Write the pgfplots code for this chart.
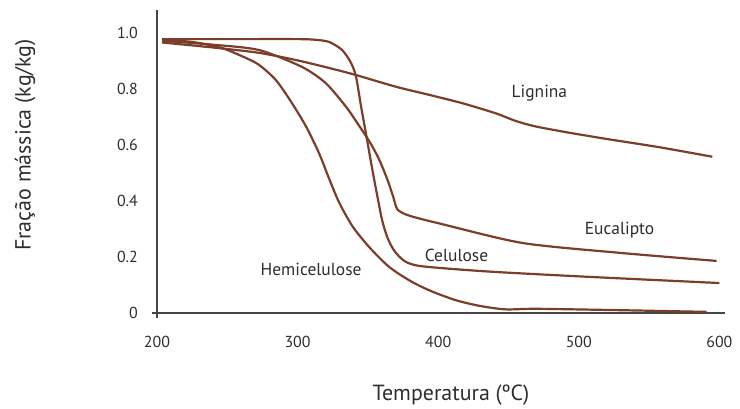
\documentclass[border=0pt]{standalone}
\usepackage{fontspec}
\setmainfont{PT Sans}
\usepackage{pgfplots}
\usepackage{pgfplotstable}
\pgfplotsset{compat=1.18}

\definecolor{curva}{RGB}{122,62,42}
\definecolor{eixo}{RGB}{70,70,70}
\definecolor{texto}{RGB}{45,45,45}

% temperatura (C), fracao massica (kg/kg)
\pgfplotstableread{
T y
203.6 0.966
240 0.948
272.6 0.929
300 0.902
322.4 0.875
341.4 0.850
369.9 0.808
393.6 0.779
417.3 0.749
441 0.713
455 0.686
469.4 0.666
493 0.644
521.7 0.620
557.3 0.592
595 0.558
}\lignina

\pgfplotstableread{
T y
203.6 0.978
250 0.978
300 0.978
312 0.976
322.4 0.968
331.7 0.939
338 0.893
341.6 0.843
345.2 0.736
348.8 0.636
352.3 0.536
355.9 0.439
360.1 0.332
364 0.268
368 0.228
372 0.203
378 0.180
390 0.166
436 0.148
507.5 0.129
600 0.107
}\celulose

\pgfplotstableread{
T y
203.6 0.972
240 0.958
272.6 0.939
303 0.879
320 0.821
334.5 0.736
344 0.667
352 0.605
358 0.548
364 0.475
368 0.415
371 0.370
378 0.350
390 0.333
400.7 0.320
460 0.250
531 0.214
598 0.186
}\eucalipto

\pgfplotstableread{
T y
203.6 0.975
225 0.968
245 0.948
260 0.918
272 0.888
284 0.835
294 0.765
305.8 0.668
315.3 0.570
322.4 0.480
329.5 0.395
339 0.310
351 0.235
365 0.165
380 0.115
395 0.078
413 0.045
430 0.025
448 0.013
470 0.015
530 0.010
591 0.004
}\hemicelulose

\begin{document}
\begin{tikzpicture}[
  curvas/.style={curva, line width=2.2bp, smooth, tension=0.45},
  rotulo/.style={texto, font=\fontsize{17.5}{20}\selectfont},
]
\begin{axis}[
  scale only axis, width=568bp, height=303bp,
  xmin=200, xmax=604, ymin=0, ymax=1.082,
  axis x line*=bottom, axis y line*=left,
  axis line style={eixo, line width=1.6bp, -},
  xtick={200,300,400,500,600},
  ytick={0,0.2,0.4,0.6,0.8,1.0},
  yticklabels={0,0.2,0.4,0.6,0.8,1.0},
  xticklabels={200,300,400,500,600},
  major tick length=0pt,
  tick label style={texto, font=\fontsize{16}{18}\selectfont},
  xticklabel style={anchor=center, yshift=-29bp},
  yticklabel style={anchor=east, inner sep=0pt, xshift=-19bp},
  extra x ticks={200}, extra x tick labels={},
  extra y ticks={0}, extra y tick labels={},
  extra tick style={major tick length=5bp, tick align=outside,
    tick style={eixo, line width=1.4bp}},
  xlabel={Temperatura (ºC)},
  ylabel={Fração mássica (kg/kg)},
  label style={texto, font=\fontsize{22}{25}\selectfont},
  xlabel style={at={(axis description cs:0.5176,-0.271)}, anchor=center},
  ylabel style={at={(axis description cs:-0.232,0.554)}, anchor=center},
  clip=false,
]
\addplot[curvas, no markers] table[x=T, y=y] {\lignina};
\addplot[curvas, no markers] table[x=T, y=y] {\celulose};
\addplot[curvas, no markers] table[x=T, y=y] {\eucalipto};
\addplot[curvas, no markers] table[x=T, y=y] {\hemicelulose};

\node[rotulo] at (axis cs:472,0.786) {Lignina};
\node[rotulo] at (axis cs:529,0.296) {Eucalipto};
\node[rotulo] at (axis cs:413,0.207) {Celulose};
\node[rotulo] at (axis cs:309.6,0.154) {Hemicelulose};
\end{axis}
\pgfresetboundingbox
\path ([xshift=-157bp,yshift=-96bp]current axis.south west) rectangle ([xshift=15bp,yshift=10bp]current axis.north east);
\end{tikzpicture}
\end{document}
